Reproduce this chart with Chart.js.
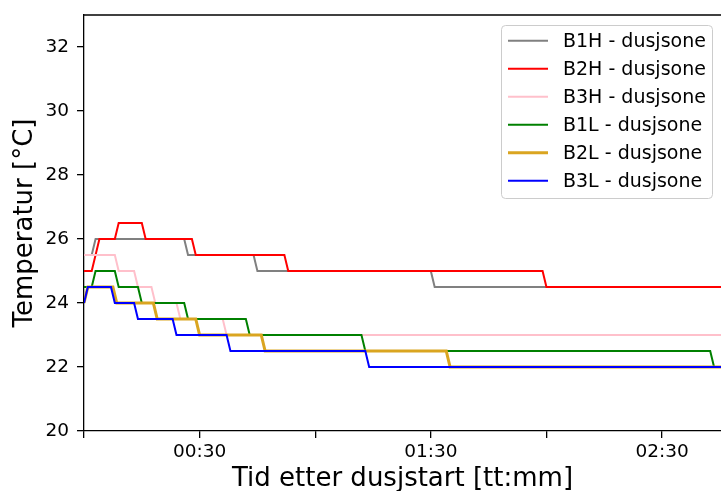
<!DOCTYPE html>
<html>
<head>
<meta charset="utf-8">
<script src="https://cdn.jsdelivr.net/npm/chart.js@4.4.1/dist/chart.umd.min.js"></script>
<style>
  html, body { margin: 0; padding: 0; background: #fff; }
  #boks { width: 721px; height: 491px; }
</style>
</head>
<body>
<div id="boks"><canvas id="graf" width="721" height="491"></canvas></div>
<script>
// --- DATA (minutter etter dusjstart, temperatur i °C) ---
const b1hTid  = [0, 2, 3, 26, 27, 44, 45, 90, 91, 166];
const b1hTemp = [25.5, 25.5, 26, 26, 25.5, 25.5, 25, 25, 24.5, 24.5];

const b2hTid  = [0, 2, 4, 8, 9, 15, 16, 28, 29, 52, 53, 119, 120, 166];
const b2hTemp = [25, 25, 26, 26, 26.5, 26.5, 26, 26, 25.5, 25.5, 25, 25, 24.5, 24.5];

const b3hTid  = [0, 8, 9, 13, 14, 17.5, 18.5, 24, 25, 36, 37, 166];
const b3hTemp = [25.5, 25.5, 25, 25, 24.5, 24.5, 24, 24, 23.5, 23.5, 23, 23];

const b1lTid  = [0, 2, 3, 8, 9, 14, 15, 26, 27, 42, 43, 72, 73, 162.5, 163.5, 166];
const b1lTemp = [24.5, 24.5, 25, 25, 24.5, 24.5, 24, 24, 23.5, 23.5, 23, 23, 22.5, 22.5, 22, 22];

const b2lTid  = [0, 1, 7.5, 8.5, 18, 19, 29, 30, 46, 47, 94, 95, 166];
const b2lTemp = [24, 24.5, 24.5, 24, 24, 23.5, 23.5, 23, 23, 22.5, 22.5, 22, 22];

const b3lTid  = [0, 1, 7, 8, 13, 14, 23, 24, 37, 38, 73, 74, 166];
const b3lTemp = [24, 24.5, 24.5, 24, 24, 23.5, 23.5, 23, 23, 22.5, 22.5, 22, 22];

const xTickVerdier   = [0, 30, 60, 90, 120, 150];
const xTickEtiketter = ['', '00:30', '', '01:30', '', '02:30'];
const yTickVerdier   = [20, 22, 24, 26, 28, 30, 32];

const FONT = 'DejaVu Sans';

function punkter(tid, temp) {
  return tid.map((t, i) => ({ x: t, y: temp[i] }));
}

function serie(navn, tid, temp, farge, bredde, rekkefolge) {
  return {
    label: navn,
    data: punkter(tid, temp),
    borderColor: farge,
    backgroundColor: farge,
    borderWidth: bredde,
    pointRadius: 0,
    tension: 0,
    fill: false,
    order: rekkefolge
  };
}

// --- LEGENDE MED RAMME + TOPPLINJE ---
const ekstraTegning = {
  id: 'ekstraTegning',
  afterDatasetsDraw(chart) {
    const ctx = chart.ctx;
    const a = chart.chartArea;
    ctx.save();
    ctx.beginPath();
    ctx.moveTo(a.left, a.top);
    ctx.lineTo(a.right, a.top);
    ctx.strokeStyle = '#000';
    ctx.lineWidth = 1.3;
    ctx.stroke();

    ctx.beginPath();
    ctx.roundRect(501.5, 25.5, 211, 173, 4);
    ctx.fillStyle = 'rgba(255,255,255,0.8)';
    ctx.fill();
    ctx.strokeStyle = '#cccccc';
    ctx.lineWidth = 1;
    ctx.stroke();

    chart.data.datasets.forEach((ds, i) => {
      const y = 40.7 + i * 28;
      ctx.beginPath();
      ctx.moveTo(508, y);
      ctx.lineTo(548, y);
      ctx.strokeStyle = ds.borderColor;
      ctx.lineWidth = ds.borderWidth;
      ctx.stroke();
      ctx.fillStyle = '#000';
      ctx.font = '19px "' + FONT + '"';
      ctx.textBaseline = 'middle';
      ctx.fillText(ds.label, 563, y + 1);
    });
    ctx.restore();
  }
};

const ctx = document.getElementById('graf').getContext('2d');

new Chart(ctx, {
  type: 'line',
  data: {
    datasets: [
      serie('B1H - dusjsone', b1hTid, b1hTemp, '#808080', 2, 6),
      serie('B2H - dusjsone', b2hTid, b2hTemp, '#ff0000', 2, 5),
      serie('B3H - dusjsone', b3hTid, b3hTemp, '#ffc0cb', 2, 4),
      serie('B1L - dusjsone', b1lTid, b1lTemp, '#008000', 2, 3),
      serie('B2L - dusjsone', b2lTid, b2lTemp, '#daa520', 3, 2),
      serie('B3L - dusjsone', b3lTid, b3lTemp, '#0000ff', 2, 1)
    ]
  },
  plugins: [ekstraTegning],
  options: {
    responsive: false,
    animation: false,
    layout: { padding: { top: 15, right: 0, bottom: 0, left: 0 } },
    plugins: {
      legend: { display: false },
      tooltip: { enabled: false }
    },
    scales: {
      x: {
        type: 'linear',
        min: 0,
        max: 165.3,
        afterFit: s => { s.height = 60; s.paddingLeft = 0; s.paddingRight = 0; },
        afterBuildTicks: s => { s.ticks = xTickVerdier.map(v => ({ value: v })); },
        ticks: {
          color: '#000',
          font: { family: FONT, size: 18.5 },
          padding: 3,
          maxRotation: 0,
          autoSkip: false,
          callback: v => xTickEtiketter[xTickVerdier.indexOf(v)]
        },
        grid: { drawOnChartArea: false, tickLength: 7, color: '#000', lineWidth: 1.3 },
        border: { color: '#000', width: 1.3 },
        title: {
          display: true,
          text: 'Tid etter dusjstart [tt:mm]',
          color: '#000',
          font: { family: FONT, size: 26 },
          padding: { top: 0, bottom: -4 }
        }
      },
      y: {
        min: 20,
        max: 33,
        afterFit: s => { s.width = 84; s.paddingTop = 0; s.paddingBottom = 0; },
        afterBuildTicks: s => { s.ticks = yTickVerdier.map(v => ({ value: v })); },
        ticks: {
          color: '#000',
          font: { family: FONT, size: 18.5 },
          padding: 8,
          callback: v => String(v)
        },
        grid: { drawOnChartArea: false, tickLength: 7, color: '#000', lineWidth: 1.3 },
        border: { color: '#000', width: 1.3 },
        title: {
          display: true,
          text: 'Temperatur [°C]',
          color: '#000',
          font: { family: FONT, size: 26 },
          padding: { top: 10, bottom: 0 }
        }
      }
    }
  }
});
</script>
</body>
</html>
